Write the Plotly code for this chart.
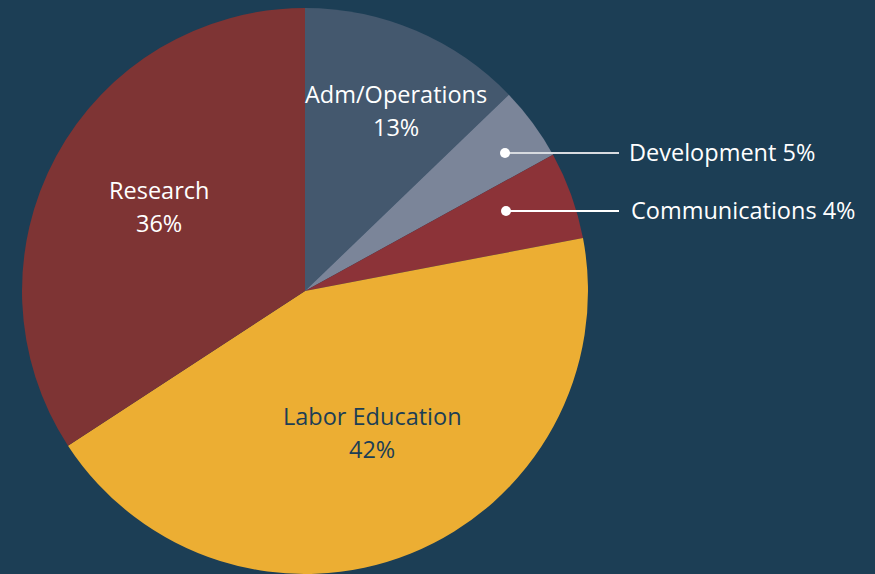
import plotly.graph_objects as go

categories = ["Adm/Operations", "Development", "Communications", "Labor Education", "Research"]
values = [12.8, 4.2, 5.0, 43.8, 34.2]
pct_labels = ["13%", "5%", "4%", "42%", "36%"]
colors = ["#44586e", "#7b8599", "#8c3338", "#ecae33", "#7e3434"]

BG = "#1c3e55"
W, H = 875, 574
FONT = "Open Sans"
FS = 23.5

fig = go.Figure(go.Pie(
    labels=categories,
    values=values,
    sort=False,
    direction="clockwise",
    rotation=0,
    marker=dict(colors=colors, line=dict(width=0)),
    textinfo="none",
    hoverinfo="label+percent",
    showlegend=False,
    domain=dict(x=[22 / W, 588 / W], y=[0, 566 / H]),
))

def px(x):
    return x / W

def py(y):
    return 1 - y / H

annotations = []
inside = [
    (0, 396, 94, 127, "white"),
    (4, 159, 190, 223, "white"),
    (3, 372, 416, 449, BG),
]
for idx, x, y1, y2, col in inside:
    for txt, y in ((categories[idx], y1), (pct_labels[idx], y2)):
        annotations.append(dict(
            x=px(x), y=py(y), xref="paper", yref="paper",
            text=txt, showarrow=False,
            font=dict(family=FONT, size=FS, color=col),
            xanchor="center", yanchor="middle",
        ))

outside = [(1, 505, 153, 619, 627, "#d8dbe0"), (2, 506, 211, 619, 629, "white")]
shapes = []
for idx, dx, dy, lx, tx, lcol in outside:
    shapes.append(dict(type="line", xref="paper", yref="paper",
                       x0=px(dx), y0=py(dy), x1=px(lx), y1=py(dy),
                       line=dict(color=lcol, width=2)))
    shapes.append(dict(type="circle", xref="paper", yref="paper",
                       x0=px(dx - 5), y0=py(dy - 5), x1=px(dx + 5), y1=py(dy + 5),
                       fillcolor="white", line=dict(color="white", width=0)))
    annotations.append(dict(
        x=px(tx), y=py(dy - 1), xref="paper", yref="paper",
        text=f"{categories[idx]} {pct_labels[idx]}",
        showarrow=False, font=dict(family=FONT, size=FS, color="white"),
        xanchor="left", yanchor="middle",
    ))

fig.update_layout(
    width=W, height=H,
    margin=dict(l=0, r=0, t=0, b=0),
    paper_bgcolor=BG, plot_bgcolor=BG,
    annotations=annotations, shapes=shapes,
)

fig.write_html(
    "out.html",
    config={"displayModeBar": False},
    post_script="document.body.style.margin='0';document.body.style.background='" + BG + "';",
)
